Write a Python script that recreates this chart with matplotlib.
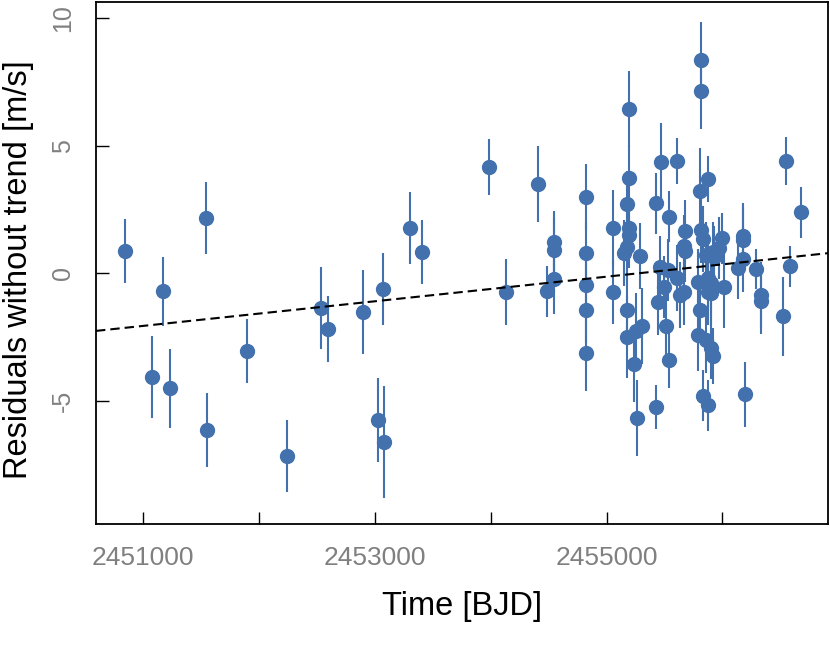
import matplotlib
matplotlib.use("Agg")
import matplotlib.pyplot as plt
import numpy as np

plt.rcParams['font.family'] = ['Liberation Sans', 'DejaVu Sans']

# RV residuals (time in BJD, residual and error in m/s)
time_bjd = [
    2450845, 2451078, 2451172, 2451233, 2451543, 2451552, 2451897, 2452241,
    2452535, 2452595, 2452897, 2453026, 2453069, 2453078, 2453302, 2453405,
    2453983, 2454129, 2454405, 2454543, 2454543, 2454543, 2454491,
    2454819, 2454819, 2454819, 2454819, 2454819,
    2455052, 2455052, 2455147, 2455173, 2455173, 2455198, 2455198, 2455198,
    2455198, 2455173, 2455173, 2455250, 2455310, 2455233, 2455259, 2455285,
    2455423, 2455431, 2455440, 2455457, 2455466, 2455492, 2455517, 2455526,
    2455543, 2455543, 2455612, 2455612, 2455638, 2455664, 2455673, 2455664,
    2455673, 2455811, 2455811, 2455802, 2455871, 2455811, 2455828, 2455793,
    2455802, 2455785, 2455854, 2455897, 2455914, 2455836, 2455879, 2455871,
    2455897, 2455854, 2455923, 2455871, 2455897, 2455914, 2455974, 2456000,
    2456017, 2456138, 2456173, 2456173, 2456173, 2456198, 2456293, 2456328,
    2456328, 2456526, 2456552, 2456586, 2456673,
]
residuals = [
    0.86, -4.08, -0.71, -4.51, 2.16, -6.16, -3.06, -7.18,
    -1.37, -2.20, -1.53, -5.76, -0.63, -6.63, 1.76, 0.82,
    4.16, -0.75, 3.49, 1.22, 0.90, -0.24, -0.71,
    2.98, 0.78, -0.47, -1.45, -3.14,
    1.76, -0.75, 0.78, 1.02, 2.70, 6.43, 3.72, 1.76,
    1.50, -1.45, -2.50, -2.27, -2.08, -3.57, -5.69, 0.67,
    -5.25, 2.74, -1.14, 0.24, 4.35, -0.55, -2.08, 0.12,
    2.20, -3.41, 4.39, -0.20, -0.86, -0.75, 1.65, 1.06,
    0.86, 8.35, 7.14, 3.20, 3.70, 1.69, 1.33, -0.35,
    -1.45, -2.43, -2.63, -2.94, -3.25, -4.82, -5.18, -0.75,
    -0.39, 0.71, 0.63, -0.20, -0.78, 0.82, 0.98, 1.37,
    -0.55, 0.20, 1.45, 1.29, 0.55, -4.75, 0.16, -0.86,
    -1.10, -1.69, 4.39, 0.27, 2.39,
]
errors = [
    1.25, 1.60, 1.35, 1.55, 1.40, 1.45, 1.25, 1.40,
    1.60, 1.30, 1.65, 1.65, 1.40, 2.20, 1.40, 1.25,
    1.10, 1.30, 1.50, 1.20, 1.30, 1.35, 1.00,
    1.30, 1.20, 1.20, 1.30, 1.50,
    1.50, 1.25, 1.30, 1.30, 1.30, 1.50, 1.30, 1.30,
    1.30, 1.30, 1.60, 1.50, 1.50, 1.50, 1.50, 1.30,
    0.85, 1.20, 1.30, 1.20, 1.55, 1.20, 1.40, 1.20,
    1.00, 1.10, 0.90, 1.30, 1.30, 1.30, 1.20, 1.20,
    1.20, 1.50, 1.50, 1.70, 0.90, 1.30, 1.30, 1.30,
    1.30, 1.40, 1.30, 1.20, 1.10, 1.00, 1.00, 1.30,
    1.30, 1.30, 1.20, 1.30, 1.30, 1.20, 1.20, 1.00,
    1.60, 1.20, 1.30, 1.30, 1.30, 1.27, 0.80, 1.30,
    1.30, 1.55, 0.95, 0.80, 1.00,
]

# linear trend removed from the residuals
trend_epoch = 2454000
trend_offset = -0.625
trend_slope = 4.83e-4   # m/s per day

blue = '#4271ae'

fig = plt.figure(figsize=(8.30, 6.68), dpi=100)
ax = fig.add_axes([0.1157, 0.2156, 0.8819, 0.7814])

ax.errorbar(time_bjd, residuals, yerr=errors, fmt='o', color=blue,
            markersize=10, elinewidth=1.5, capsize=0, zorder=3)

ax.axline((trend_epoch, trend_offset), slope=trend_slope, color='black',
          linestyle=(0, (4.5, 2.4)), linewidth=1.5, zorder=4)

ax.set_xlim(2450598, 2456910)
ax.set_ylim(-9.84, 10.63)

xticks = np.arange(2451000, 2456001, 1000)
ax.set_xticks(xticks)
ax.set_xticklabels([str(t) if t in (2451000, 2453000, 2455000) else '' for t in xticks])
ax.set_yticks([-5, 0, 5, 10])
ax.set_yticklabels(['-5', '0', '5', '10'], rotation=90, va='center')

ax.tick_params(axis='both', direction='in', length=9, width=1.0, colors='black')
ax.tick_params(axis='x', labelsize=19, labelcolor='#808080', pad=16)
ax.tick_params(axis='y', labelsize=18, labelcolor='#808080', pad=15)

for side in ax.spines.values():
    side.set_linewidth(1.3)

ax.set_xlabel('Time [BJD]', fontsize=23.5)
ax.set_ylabel('Residuals without trend [m/s]', fontsize=23.5)
ax.xaxis.set_label_coords(0.5, -0.128)
ax.yaxis.set_label_coords(-0.085, 0.488)

fig.savefig('out.png', dpi=100)
